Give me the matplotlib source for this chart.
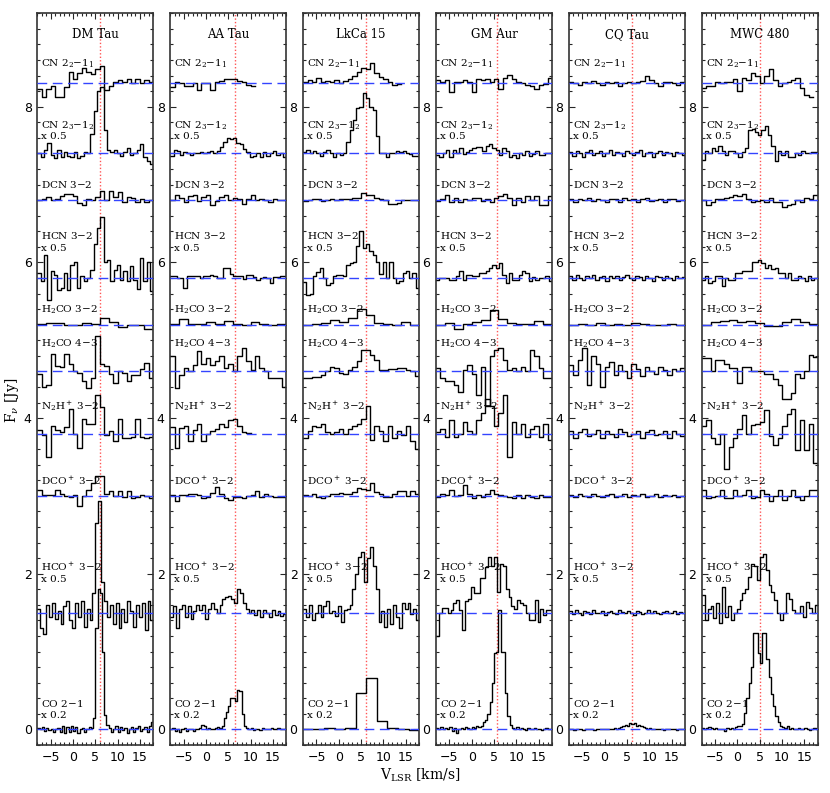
"""
Espectros de moléculas en discos protoplanetarios: 6 fuentes x 10 transiciones.
Genera out.png.
"""
import matplotlib

matplotlib.use("Agg")
import matplotlib.pyplot as plt
import numpy as np
from matplotlib.ticker import MultipleLocator

nan = np.nan

SOURCES = ["DM Tau", "AA Tau", "LkCa 15", "GM Aur", "CQ Tau", "MWC 480"]
VSYS = [6.0, 6.6, 6.2, 5.7, 6.2, 5.0]

# transiciones de abajo hacia arriba
LINE_LABELS = ["CO 2$-$1", "HCO$^+$ 3$-$2", "DCO$^+$ 3$-$2", "N$_2$H$^+$ 3$-$2",
               "H$_2$CO 4$-$3", "H$_2$CO 3$-$2", "HCN 3$-$2", "DCN 3$-$2",
               "CN 2$_3$$-$1$_2$", "CN 2$_2$$-$1$_1$"]
LINE_SCALES = ["x 0.2", "x 0.5", "", "", "", "", "x 0.5", "", "x 0.5", ""]
BASELINES = [0.0, 1.5, 3.0, 3.8, 4.6, 5.2, 5.8, 6.8, 7.4, 8.3]

# --- DM Tau (Jy sobre la línea base, ya escalados) ---
DM_CN22 = [-0.07, -0.17, -0.07, -0.03, -0.17, -0.17, -0.05, 0.14, 0.06, 0.13, 0.20, 0.15, 0.12, 0.19, 0.22,
           -0.09, -0.04, 0.02, 0.04, 0.02, 0.05, 0.01, 0.05, 0.0, 0.04, 0.02]
DM_CN23 = [0.0, -0.05, 0.05, 0.13, -0.02, -0.06, 0.04, -0.05, 0.02, -0.03, -0.05, 0.02, -0.06, -0.03, 0.02,
           0.0, 0.25, 0.55, 0.80, 0.85, 0.30, 0.05, 0.02, 0.04, 0.0, -0.03, 0.02, 0.07, -0.02, 0.0, 0.05,
           0.12, -0.05, -0.10, -0.14]
DM_DCN = [0.0, 0.02, 0.04, 0.0, 0.02, 0.05, 0.08, 0.08, 0.05, -0.04, -0.06, 0.02, 0.0, 0.04, 0.12, 0.0,
          0.12, 0.04, 0.1, -0.02, 0.04, 0.03, -0.03, 0.02, -0.02, 0.0]
DM_HCN = [0.06, -0.04, 0.29, -0.28, 0.09, 0.04, -0.15, -0.13, 0.06, -0.15, 0.17, 0.2, -0.13, 0.02, -0.04,
          0.0, 0.1, 0.43, 0.64, 0.78, 0.21, 0.23, -0.04, 0.1, 0.17, -0.02, 0.09, -0.04, 0.15, -0.02, -0.14,
          0.26, -0.04, 0.21, -0.17]
DM_H2CO32 = [0.01, 0.02, 0.02, 0.0, 0.0, 0.02, 0.01, 0.09, 0.04, -0.03, -0.01, 0.0, -0.05]
DM_H2CO43 = [-0.03, -0.2, -0.18, 0.22, 0.07, 0.05, 0.22, 0.09, 0.0, -0.02, -0.13, -0.21, -0.09, 0.45, 0.09,
             0.07, -0.04, -0.15, 0.0, -0.02, -0.13, -0.05, -0.05, 0.03, 0.11, -0.08]
DM_N2H = [0.05, -0.02, -0.3, 0.1, 0.05, 0.02, 0.08, 0.32, 0.0, -0.19, 0.19, 0.12, 0.12, 0.5, 0.34, -0.02,
          0.04, -0.1, 0.19, -0.05, -0.05, -0.04, 0.19, -0.04, -0.05, -0.04]
DM_DCO = [0.08, 0.01, 0.01, 0.01, 0.07, 0.03, 0.0, -0.01, 0.01, -0.13, 0.0, 0.07, 0.17, 0.25, 0.25, 0.02,
          0.06, 0.0, 0.06, -0.01, 0.06, -0.03, -0.01, 0.01, 0.0, -0.03]
DM_HCO = [0.05, -0.2, -0.28, 0.1, -0.05, 0.12, -0.08, 0.02, -0.15, 0.08, 0.15, -0.1, -0.2, 0.12, -0.05,
          0.15, -0.18, 0.05, -0.1, 0.25, 1.15, 1.44, 0.4, 0.15, -0.05, 0.1, -0.15, 0.12, -0.2, 0.05, -0.12,
          0.15, 0.02, -0.18, 0.1, -0.05, 0.12, -0.22, 0.15, -0.1]
DM_CO = [0.02, 0.0, 0.03, -0.02, 0.02, -0.01, 0.0, -0.03, 0.01, 0.02, -0.03, 0.04, -0.04, 0.03, -0.03, 0.04,
         -0.02, 0.03, -0.04, 0.01, 0.02, -0.03, 0.0, 0.03, 0.02, 0.15, 1.3, 1.8, 1.75, 1.0, 0.19, 0.06, 0.02,
         -0.03, 0.01, 0.04, -0.03, 0.03, -0.01, 0.02, -0.04, 0.0, 0.03, -0.03, 0.02, 0.04, -0.02, 0.0, 0.03,
         -0.03, 0.05, 0.1]

# --- AA Tau ---
AA_CN22 = [-0.05, 0.02, 0.0, -0.03, -0.04, 0.0, -0.09, 0.0, 0.01, -0.08, 0.02, 0.03, 0.06, 0.05, 0.05, 0.03,
           0.02, -0.02, -0.03, nan, nan, nan, nan, nan, nan, nan]
AA_CN23 = [-0.03, 0.05, 0.03, -0.02, 0.02, 0.0, -0.02, 0.01, 0.0, 0.02, 0.0, 0.02, 0.03, 0.01, 0.03, 0.08,
           0.15, 0.2, 0.18, 0.2, 0.14, 0.12, 0.06, 0.02, -0.05, -0.03, 0.0, -0.05, 0.02, -0.03, 0.01, 0.03,
           -0.02, 0.0, -0.05]
AA_DCN = [0.0, 0.06, 0.03, -0.02, 0.05, 0.07, -0.01, 0.04, 0.06, -0.06, -0.01, 0.04, 0.07, 0.0, 0.03, 0.01,
          -0.05, 0.01, 0.06, 0.0, 0.01, 0.0, -0.02, 0.01, 0.0, 0.0]
AA_HCN = [0.02, 0.02, 0.0, 0.0, -0.13, 0.02, 0.02, 0.03, 0.02, 0.0, 0.02, 0.02, 0.04, 0.03, 0.0, 0.0, 0.13,
          0.13, 0.05, 0.03, 0.02, 0.02, -0.01, 0.04, 0.04, 0.01, -0.03, 0.0, 0.01, 0.0, -0.06, 0.01, 0.01,
          0.02, 0.02]
AA_H2CO32 = [0.01, 0.07, 0.01, 0.01, 0.03, 0.01, 0.05, 0.01, 0.0, 0.04, 0.01, 0.0, 0.01]
AA_H2CO43 = [0.2, -0.21, -0.05, 0.04, 0.0, 0.08, 0.26, 0.1, 0.17, 0.08, 0.13, 0.2, 0.04, 0.1, 0.0, 0.2, 0.3,
             0.13, 0.02, 0.2, 0.04, 0.0, -0.09, -0.09, -0.09, -0.2]
AA_N2H = [0.09, -0.19, 0.07, 0.1, -0.09, 0.05, 0.13, -0.09, 0.0, 0.04, 0.06, 0.12, 0.09, 0.17, 0.19, 0.1,
          0.02, 0.01, nan, nan, nan, nan, nan, nan, nan, nan]
AA_DCO = [0.01, -0.06, 0.01, 0.01, 0.02, 0.03, 0.01, -0.03, -0.02, 0.04, 0.12, 0.03, -0.03, -0.05, -0.02,
          -0.01, -0.03, 0.0, 0.01, 0.06, -0.02, 0.03, 0.0, -0.01, -0.01, -0.01]
AA_HCO = [-0.05, 0.08, -0.2, 0.05, 0.1, -0.05, 0.08, -0.08, 0.02, 0.1, 0.04, 0.1, -0.08, 0.05, 0.12, 0.05,
          0.0, 0.1, 0.18, 0.2, 0.22, 0.18, 0.12, 0.31, 0.25, 0.12, 0.05, 0.0, 0.04, -0.03, 0.03, -0.06, 0.04,
          0.0, -0.05, 0.04, -0.03, 0.02, -0.04, -0.02]
AA_CO = [0.0, 0.02, -0.02, 0.01, -0.03, 0.0, 0.02, -0.02, 0.0, 0.01, -0.02, 0.0, 0.01, 0.02, 0.06, 0.05, 0.0,
         0.02, 0.01, 0.0, 0.02, 0.03, 0.02, 0.05, 0.15, 0.23, 0.3, 0.41, 0.4, 0.36, 0.51, 0.5, 0.2, 0.05, 0.02,
         0.0, 0.02, -0.01, 0.01, 0.0, -0.01, 0.02, 0.0, 0.01, 0.0, 0.02, 0.01, 0.0, 0.02, 0.01, 0.0, 0.01]

# --- LkCa 15 ---
LK_CN22 = [0.02, 0.04, 0.02, 0.07, 0.02, 0.03, 0.02, 0.04, 0.01, 0.03, 0.05, 0.1, 0.15, 0.2, 0.18, 0.26, 0.13,
           0.08, 0.05, 0.02, -0.02, -0.01, nan, nan, nan, nan]
LK_CN23 = [0.02, 0.04, 0.01, 0.03, 0.0, -0.03, 0.02, 0.04, 0.0, -0.04, 0.01, -0.02, 0.0, 0.15, 0.3, 0.43,
           0.58, 0.6, 0.77, 0.71, 0.6, 0.56, 0.22, 0.01, 0.0, -0.04, 0.01, 0.0, 0.03, 0.02, 0.03, 0.0, -0.01,
           -0.03, -0.03]
LK_DCN = [-0.01, 0.0, 0.01, 0.01, -0.01, 0.0, 0.01, 0.0, 0.01, 0.01, 0.01, 0.03, 0.03, 0.09, 0.07, 0.06, 0.03,
          0.01, 0.0, -0.05, -0.05, -0.04, 0.0, 0.0, 0.0, 0.0]
LK_HCN = [-0.05, -0.22, -0.2, 0.02, 0.08, 0.13, 0.0, -0.09, -0.07, 0.02, 0.04, 0.04, 0.02, 0.17, 0.19, 0.21,
          0.41, 0.6, 0.38, 0.43, 0.34, 0.3, 0.2, 0.05, 0.21, 0.0, 0.21, 0.0, -0.06, -0.04, 0.06, 0.09, 0.0,
          0.06, -0.13]
LK_H2CO32 = [-0.01, 0.01, 0.02, 0.06, 0.04, 0.08, 0.2, 0.12, 0.02, 0.01, -0.01, 0.03, 0.0]
LK_H2CO43 = [-0.08, -0.08, -0.07, -0.07, -0.05, 0.0, 0.06, 0.04, -0.02, -0.03, 0.02, 0.06, 0.13, 0.27, 0.28,
             0.21, 0.15, 0.02, 0.02, 0.03, 0.03, 0.04, 0.04, 0.02, 0.0, -0.06]
LK_N2H = [-0.06, 0.04, 0.1, 0.08, 0.13, 0.02, 0.0, 0.02, 0.06, 0.0, 0.06, 0.1, 0.13, 0.19, 0.36, -0.08, 0.1,
          0.04, -0.09, 0.1, -0.06, 0.04, -0.02, 0.1, -0.1, -0.2]
LK_DCO = [0.01, 0.0, 0.03, -0.01, -0.03, 0.0, 0.02, 0.03, 0.04, 0.03, 0.03, 0.05, 0.1, 0.09, 0.07, 0.16, 0.05,
          0.03, -0.01, -0.01, 0.02, 0.06, 0.06, 0.0, 0.06, 0.03]
LK_HCO = [0.05, -0.05, 0.1, -0.1, 0.0, 0.1, -0.05, 0.08, 0.15, 0.0, 0.02, -0.04, 0.08, -0.12, 0.03, 0.05, 0.1,
          0.3, 0.5, 0.72, 0.78, 0.4, 0.7, 0.85, 0.6, 0.3, -0.12, 0.02, -0.18, 0.05, -0.15, 0.1, -0.05, -0.2,
          0.12, 0.05, 0.12, -0.02, 0.05, -0.1]
LK_CO = [0.0, 0.01, 0.02, 0.01, 0.02, 0.47, 0.66, 0.11, 0.02, 0.01, -0.01]

# --- GM Aur ---
GM_CN22 = [0.04, 0.02, 0.04, -0.11, 0.02, 0.02, 0.04, 0.02, -0.11, 0.06, 0.04, 0.06, 0.02, 0.06, -0.07, 0.07,
           0.11, 0.06, 0.02, 0.0, -0.02, -0.04, -0.07, -0.02, -0.01, 0.07]
GM_CN23 = [-0.02, -0.05, 0.0, 0.05, -0.04, 0.05, 0.0, 0.07, -0.01, 0.02, 0.04, 0.07, 0.08, 0.08, 0.03, 0.1,
           0.12, 0.07, 0.05, -0.02, 0.07, 0.03, -0.05, -0.02, -0.06, 0.0, -0.02, 0.03, -0.03, -0.01, 0.03,
           -0.02, -0.02, 0.0, 0.01]
GM_DCN = [-0.01, 0.01, 0.07, -0.03, 0.03, -0.03, 0.02, 0.0, 0.03, 0.03, -0.01, 0.02, -0.03, 0.03, 0.05, 0.08,
          0.03, -0.06, 0.03, -0.03, 0.05, 0.0, 0.05, -0.06, -0.06, 0.05]
GM_HCN = [-0.02, 0.0, 0.0, 0.0, -0.02, -0.02, 0.03, 0.09, -0.02, 0.04, 0.04, 0.02, 0.02, 0.06, 0.06, 0.09,
          0.13, 0.17, 0.13, 0.19, 0.04, -0.06, 0.06, -0.02, -0.02, 0.04, 0.09, 0.06, -0.04, 0.01, -0.03, 0.0,
          0.0, 0.03, -0.04]
GM_H2CO32 = [0.0, 0.02, -0.06, 0.01, 0.03, 0.06, 0.19, 0.07, 0.02, 0.01, 0.01, 0.05, 0.01]
GM_H2CO43 = [0.04, -0.08, -0.13, -0.13, -0.17, -0.26, 0.02, 0.08, -0.04, -0.3, 0.05, -0.45, 0.2, 0.28, 0.3,
             0.15, 0.02, 0.04, 0.0, 0.06, 0.0, 0.28, 0.2, 0.04, -0.08, -0.08]
GM_N2H = [0.02, 0.06, -0.04, 0.17, -0.04, 0.0, 0.15, 0.04, 0.0, 0.17, 0.26, 0.45, 0.36, 0.1, 0.26, 0.5, -0.3,
          0.15, 0.0, 0.13, -0.04, 0.06, 0.1, -0.04, 0.13, -0.08]
GM_DCO = [-0.01, 0.03, 0.01, 0.07, 0.0, 0.01, 0.14, 0.03, -0.03, 0.01, -0.01, 0.03, 0.08, 0.03, 0.01, 0.0,
          -0.01, -0.03, 0.01, -0.03, 0.01, -0.01, -0.03, 0.01, -0.01, -0.01]
GM_HCO = [-0.3, 0.0, 0.06, 0.06, 0.0, 0.04, 0.12, 0.16, 0.04, -0.22, 0.15, 0.17, 0.33, 0.25, 0.25, 0.44, 0.44,
          0.59, 0.72, 0.6, 0.72, 0.27, 0.63, 0.6, 0.3, 0.2, 0.08, 0.05, 0.16, 0.12, 0.1, -0.01, -0.09, -0.1,
          0.16, -0.12, 0.05, -0.03, 0.04, 0.03]
GM_CO = [0.02, 0.01, 0.03, 0.0, 0.02, 0.01, 0.03, -0.02, 0.02, -0.04, 0.0, 0.02, 0.01, 0.03, 0.02, 0.0, 0.03,
         0.02, 0.04, 0.03, 0.04, 0.1, 0.12, 0.2, 0.35, 0.6, 0.98, 1.0, 1.54, 1.0, 1.0, 0.47, 0.17, 0.06, 0.02,
         0.01, 0.03, 0.0, 0.02, 0.01, -0.01, 0.02, 0.0, 0.01, 0.02, 0.0, 0.01, -0.01, 0.01, 0.02, 0.0, 0.01]

# --- CQ Tau ---
CQ_CN22 = [0.02, 0.0, -0.02, 0.02, 0.0, 0.03, 0.0, -0.02, 0.02, 0.0, 0.02, -0.03, 0.0, 0.02, 0.0, 0.02, 0.03,
           0.1, 0.04, 0.0, -0.04, 0.02, 0.02, 0.0, -0.02, 0.02]
CQ_CN23 = [0.02, -0.03, 0.03, 0.0, -0.04, 0.02, 0.04, -0.02, 0.0, 0.03, -0.03, 0.01, 0.04, -0.02, 0.02, 0.0,
           -0.03, 0.03, 0.01, -0.02, 0.02, 0.04, -0.03, 0.0, 0.02, -0.04, 0.01, 0.03, -0.02, 0.02, 0.0, -0.03,
           0.02, 0.01, -0.02]
CQ_DCN = [0.01, -0.02, 0.02, 0.0, 0.03, -0.01, 0.02, 0.0, -0.03, 0.02, 0.01, -0.02, 0.03, 0.0, 0.02, -0.02,
          0.01, 0.03, -0.01, 0.0, 0.02, -0.03, 0.01, 0.02, -0.01, 0.0]
CQ_HCN = [0.03, -0.02, 0.04, 0.0, -0.03, 0.02, 0.0, 0.04, -0.02, 0.01, 0.03, -0.04, 0.02, 0.0, 0.03, -0.02,
          0.01, 0.04, 0.0, -0.03, 0.02, 0.01, -0.02, 0.03, 0.0, -0.04, 0.02, 0.01, -0.02, 0.03, 0.0, -0.03,
          0.02, 0.0, 0.01]
CQ_H2CO32 = [0.0, 0.01, -0.01, 0.02, 0.0, 0.01, -0.01, 0.02, 0.01, 0.0, -0.01, 0.01, 0.0]
CQ_H2CO43 = [0.08, -0.05, 0.15, 0.3, -0.18, 0.2, 0.1, -0.2, 0.05, 0.12, -0.05, 0.08, 0.0, -0.08, 0.1, 0.03,
             -0.06, 0.05, 0.0, -0.04, 0.06, 0.02, -0.05, 0.03, 0.0, 0.04]
CQ_N2H = [0.04, -0.06, 0.02, 0.06, -0.03, 0.0, 0.05, -0.05, 0.03, 0.0, -0.04, 0.06, 0.02, -0.03, 0.0, 0.04,
          -0.05, 0.02, 0.05, -0.02, 0.0, 0.04, -0.06, 0.03, 0.0, -0.03]
CQ_DCO = [0.01, -0.02, 0.02, 0.0, -0.01, 0.03, 0.0, -0.02, 0.01, 0.02, -0.01, 0.0, 0.02, -0.02, 0.01, 0.0,
          0.02, -0.01, 0.0, 0.02, -0.02, 0.01, 0.0, 0.01, -0.01, 0.0]
CQ_HCO = [0.02, -0.02, 0.03, 0.0, -0.03, 0.02, 0.01, -0.02, 0.03, 0.0, -0.01, 0.02, -0.03, 0.01, 0.02, 0.0,
          -0.02, 0.03, 0.01, -0.01, 0.02, 0.0, -0.03, 0.02, 0.01, -0.02, 0.0, 0.03, -0.01, 0.02, 0.0, -0.02,
          0.01, 0.02, -0.01, 0.0, 0.02, -0.02, 0.01, 0.0]
CQ_CO = [0.0, 0.01, -0.01, 0.0, 0.01, 0.0, -0.01, 0.01, 0.0, 0.01, 0.0, -0.01, 0.0, 0.01, 0.0, 0.01, 0.0, 0.01,
         0.0, 0.01, 0.02, 0.01, 0.02, 0.03, 0.05, 0.06, 0.05, 0.08, 0.07, 0.08, 0.05, 0.06, 0.05, 0.03, 0.02,
         0.01, 0.02, 0.01, 0.0, 0.01, 0.0, 0.01, -0.01, 0.0, 0.01, 0.0, 0.01, 0.0, -0.01, 0.0, 0.01, 0.0]

# --- MWC 480 ---
MW_CN22 = [-0.06, -0.04, -0.03, 0.02, 0.0, 0.02, 0.02, 0.06, -0.1, 0.07, 0.04, 0.13, 0.09, 0.0, 0.1, 0.19,
           0.04, -0.04, 0.0, 0.02, 0.04, 0.07, -0.06, -0.15, -0.17, nan]
MW_CN23 = [-0.08, 0.03, 0.0, 0.07, 0.03, 0.1, 0.03, -0.02, 0.03, 0.03, 0.0, -0.04, 0.02, 0.07, 0.3, 0.32,
           0.28, 0.24, 0.3, 0.35, 0.24, 0.09, -0.1, 0.03, -0.02, 0.03, -0.05, -0.05, 0.0, -0.02, 0.03, 0.0,
           0.0, 0.02, 0.02]
MW_DCN = [0.0, -0.06, -0.03, 0.01, 0.01, 0.03, 0.04, 0.07, 0.05, 0.08, 0.02, -0.03, -0.01, 0.0, -0.03, 0.03,
          -0.03, -0.03, -0.09, -0.06, -0.05, 0.0, -0.03, 0.03, 0.01, 0.06]
MW_HCN = [-0.02, 0.02, -0.06, -0.04, 0.03, 0.03, -0.1, 0.0, -0.02, -0.02, 0.06, 0.06, 0.09, 0.09, 0.09, 0.21,
          0.21, 0.23, 0.19, 0.13, 0.17, 0.11, 0.13, 0.06, 0.06, 0.0, 0.06, -0.02, -0.02, 0.02, 0.0, -0.04,
          0.02, -0.03, 0.0]
MW_H2CO32 = [-0.01, 0.04, 0.05, 0.06, 0.03, 0.05, 0.02, -0.02, -0.02, 0.03, 0.07, 0.04, 0.01]
MW_H2CO43 = [0.17, 0.17, 0.0, 0.15, 0.15, 0.09, 0.04, 0.04, -0.15, 0.06, 0.06, 0.0, 0.0, 0.0, -0.04, -0.04,
             -0.1, -0.17, -0.36, -0.36, -0.28, -0.04, -0.09, 0.0, 0.21, 0.19]
MW_N2H = [0.1, 0.17, -0.05, -0.13, 0.0, -0.45, -0.17, -0.06, 0.06, 0.24, 0.0, 0.11, 0.13, 0.15, 0.3, -0.03,
          -0.15, -0.05, 0.1, 0.25, 0.32, -0.21, 0.17, -0.21, 0.13, -0.38]
MW_DCO = [0.08, -0.03, -0.01, 0.0, 0.07, -0.03, -0.03, 0.07, 0.0, 0.01, 0.07, -0.03, -0.02, 0.08, 0.03, -0.06,
          0.0, 0.07, -0.05, 0.0, 0.07, -0.01, -0.05, 0.0, 0.08, 0.08]
MW_HCO = [0.23, -0.09, 0.05, 0.08, -0.07, 0.12, -0.13, 0.33, -0.05, 0.08, -0.1, 0.0, 0.05, 0.16, 0.25, 0.3,
          0.46, 0.63, 0.6, 0.42, 0.72, 0.76, 0.55, 0.35, 0.27, 0.16, 0.0, -0.09, 0.0, 0.25, 0.17, 0.03, -0.01,
          0.0, 0.08, -0.05, 0.14, 0.06, 0.0, 0.1]
MW_CO = [0.02, 0.01, 0.02, 0.03, 0.02, 0.01, 0.02, 0.0, 0.01, 0.0, -0.02, 0.02, 0.01, 0.02, 0.01, 0.03, 0.04,
         0.05, 0.07, 0.21, 0.4, 0.6, 0.8, 1.24, 1.24, 0.98, 0.85, 1.24, 1.24, 0.9, 0.68, 0.45, 0.3, 0.17, 0.1,
         0.05, 0.03, 0.02, 0.04, 0.01, 0.02, 0.0, 0.01, 0.02, 0.0, 0.01, 0.02, 0.0, -0.01, 0.01, 0.02, 0.01]

SPECTRA = [
    [DM_CO, DM_HCO, DM_DCO, DM_N2H, DM_H2CO43, DM_H2CO32, DM_HCN, DM_DCN, DM_CN23, DM_CN22],
    [AA_CO, AA_HCO, AA_DCO, AA_N2H, AA_H2CO43, AA_H2CO32, AA_HCN, AA_DCN, AA_CN23, AA_CN22],
    [LK_CO, LK_HCO, LK_DCO, LK_N2H, LK_H2CO43, LK_H2CO32, LK_HCN, LK_DCN, LK_CN23, LK_CN22],
    [GM_CO, GM_HCO, GM_DCO, GM_N2H, GM_H2CO43, GM_H2CO32, GM_HCN, GM_DCN, GM_CN23, GM_CN22],
    [CQ_CO, CQ_HCO, CQ_DCO, CQ_N2H, CQ_H2CO43, CQ_H2CO32, CQ_HCN, CQ_DCN, CQ_CN23, CQ_CN22],
    [MW_CO, MW_HCO, MW_DCO, MW_N2H, MW_H2CO43, MW_H2CO32, MW_HCN, MW_DCN, MW_CN23, MW_CN22],
]

VMIN, VMAX = -8.0, 18.0

# posición vertical de las etiquetas respecto a la línea base
LABEL_DY = [0.33, 0.59, 0.19, 0.36, 0.36, 0.19, 0.54, 0.2, 0.35, 0.25]
SCALE_DY = [0.18, 0.43, 0, 0, 0, 0, 0.38, 0, 0.22, 0]

plt.rcParams["mathtext.fontset"] = "dejavuserif"
SERIF = "DejaVu Serif"

W, H = 830, 793
fig = plt.figure(figsize=(W / 100, H / 100), dpi=100)

for i, (name, vsys, spectra) in enumerate(zip(SOURCES, VSYS, SPECTRA)):
    left = 37.3 + 132.9 * i
    ax = fig.add_axes([left / W, 1 - 745 / H, 116 / W, (745 - 13.3) / H])
    ax.set_xlim(VMIN, VMAX)
    ax.set_ylim(-0.2, 9.2)

    ax.axvline(vsys, color="#ff5555", lw=1.0, ls=(0, (1, 1.5)), zorder=1)
    for k, vals in enumerate(spectra):
        vals = np.asarray(vals, dtype=float)
        off = BASELINES[k]
        edges = np.linspace(VMIN, VMAX, len(vals) + 1)
        ax.plot(edges, np.append(vals, vals[-1]) + off, drawstyle="steps-post",
                color="black", lw=1.0, zorder=2)
        ax.axhline(off, color="#3344ff", lw=1.0, ls=(0, (7, 4)), zorder=3)
        ax.text(-7.1, off + LABEL_DY[k], LINE_LABELS[k], fontsize=7.5, family=SERIF,
                ha="left", va="center", zorder=4)
        if LINE_SCALES[k]:
            ax.text(-7.1, off + SCALE_DY[k], LINE_SCALES[k], fontsize=7.5, family=SERIF,
                    ha="left", va="center", zorder=4)

    ax.text(5.0, 8.93, name, fontsize=8.5, family=SERIF, ha="center", va="center")

    ax.xaxis.set_major_locator(MultipleLocator(5))
    ax.xaxis.set_minor_locator(MultipleLocator(1))
    ax.yaxis.set_major_locator(MultipleLocator(2))
    ax.yaxis.set_minor_locator(MultipleLocator(0.2))
    ax.tick_params(which="both", direction="in", top=True, right=True, width=0.8, color="0.15")
    ax.tick_params(which="major", length=4.5, labelsize=9, pad=4)
    ax.tick_params(which="minor", length=2.2)
    for sp in ax.spines.values():
        sp.set_color("0.2")
        sp.set_linewidth(1.2)

fig.text(12 / W, 1 - 400 / H, r"F$_\nu$ [Jy]", rotation=90, fontsize=10, family=SERIF,
         ha="center", va="center")
fig.text(420 / W, 1 - 775 / H, r"V$_{\rm LSR}$ [km/s]", fontsize=10, family=SERIF,
         ha="center", va="center")

fig.savefig("out.png", dpi=100)
